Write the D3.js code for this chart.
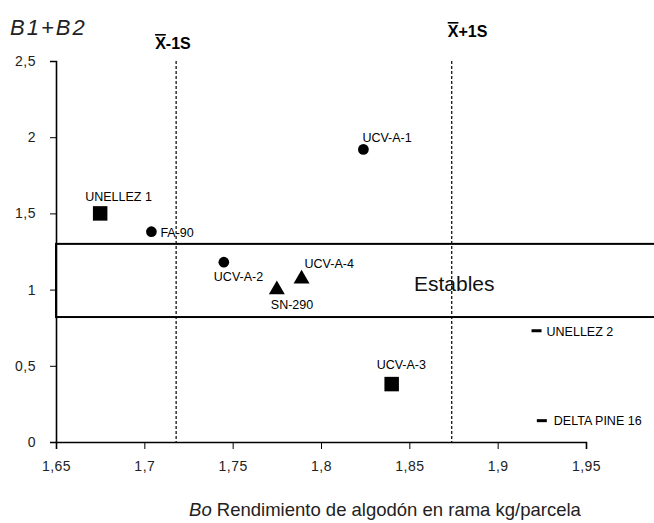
<!DOCTYPE html>
<html>
<head>
<meta charset="utf-8">
<script src="https://cdn.jsdelivr.net/npm/d3@7"></script>
<style>
  body { margin: 0; background: #fff; }
  text { font-family: "Liberation Sans", Arial, sans-serif; }
</style>
</head>
<body>
<svg id="chart" width="654" height="523"></svg>
<script>
// cultivares y sus valores (Bo, B1+B2)
var cultivares = ["UNELLEZ 1", "FA-90", "UCV-A-1", "UCV-A-2", "SN-290",
                  "UCV-A-4", "UCV-A-3", "UNELLEZ 2", "DELTA PINE 16"];
var rendimiento = [1.675, 1.704, 1.824, 1.745, 1.775, 1.789, 1.840, 1.922, 1.925];
var estabilidad = [1.50, 1.38, 1.92, 1.18, 1.00, 1.07, 0.38, 0.73, 0.14];
var grupo = ["square", "circle", "circle", "circle", "triangle",
             "triangle", "square", "dash", "dash"];
var xTicks = [1.65, 1.7, 1.75, 1.8, 1.85, 1.9, 1.95];
var yTicks = [0, 0.5, 1, 1.5, 2, 2.5];
var limites = [1.718, 1.874];          // media -1s, +1s
var limiteEtiquetas = ["-1S", "+1S"];
var bandaEstable = [0.82, 1.30];

var svg = d3.select("#chart");

var x = d3.scaleLinear().domain([1.65, 1.95]).range([56, 586]);
var y = d3.scaleLinear().domain([0, 2.5]).range([442, 61]);

var loc = d3.formatLocale({decimal: ",", thousands: ".", grouping: [3], currency: ["", ""]});
var fmt = function(d) { return loc.format("~g")(d); };

// banda de estables
svg.append("rect")
    .attr("x", x(1.65))
    .attr("y", y(bandaEstable[1]))
    .attr("width", x(2.0) - x(1.65))
    .attr("height", y(bandaEstable[0]) - y(bandaEstable[1]))
    .attr("fill", "none")
    .attr("stroke", "#000")
    .attr("stroke-width", 2);

svg.append("text")
    .attr("x", 414)
    .attr("y", 291)
    .attr("font-size", 21)
    .attr("fill", "#111")
    .text("Estables");

// lineas de la media +- 1 s
svg.selectAll(".lim")
    .data(limites)
    .enter().append("line")
    .attr("class", "lim")
    .attr("x1", function(d) { return x(d); })
    .attr("x2", function(d) { return x(d); })
    .attr("y1", y(2.5))
    .attr("y2", y(0))
    .attr("stroke", "#000")
    .attr("stroke-width", 1.2)
    .attr("stroke-dasharray", "3,2");

var limPos = [[-21, 49], [-4, 37]];
var limText = svg.selectAll(".limlab")
    .data(limites)
    .enter().append("text")
    .attr("class", "limlab")
    .attr("x", function(d, i) { return x(d) + limPos[i][0]; })
    .attr("y", function(d, i) { return limPos[i][1]; })
    .attr("font-size", 16)
    .attr("font-weight", "bold");
limText.append("tspan")
    .style("text-decoration", "overline")
    .text("X");
limText.append("tspan")
    .text(function(d, i) { return limiteEtiquetas[i]; });

// ejes
var xAxis = svg.append("g")
    .attr("transform", "translate(0," + y(0) + ")")
    .call(d3.axisBottom(x).tickValues(xTicks).tickSizeOuter(0).tickSize(7).tickPadding(12).tickFormat(fmt));
var yAxis = svg.append("g")
    .attr("transform", "translate(" + x(1.65) + ",0)")
    .call(d3.axisLeft(y).tickValues(yTicks).tickSizeOuter(0).tickSize(6).tickPadding(14).tickFormat(fmt));

[xAxis, yAxis].forEach(function(a) {
    a.select(".domain").attr("stroke-width", 1.6);
    a.selectAll("text").attr("font-size", 14).attr("fill", "#222")
        .attr("letter-spacing", 0.5)
        .style("font-family", "'Liberation Sans', Arial, sans-serif");
});

svg.append("text")
    .attr("x", 10)
    .attr("y", 35)
    .attr("font-size", 22)
    .attr("font-style", "italic")
    .attr("letter-spacing", 2)
    .attr("fill", "#222")
    .text("B1+B2");

var xt = svg.append("text")
    .attr("x", 385)
    .attr("y", 516)
    .attr("text-anchor", "middle")
    .attr("font-size", 18.5)
    .attr("fill", "#222");
xt.append("tspan").attr("font-style", "italic").text("Bo");
xt.append("tspan").text(" Rendimiento de algodón en rama kg/parcela");

// marcadores
var simbolo = {
    square: d3.symbol().type(d3.symbolSquare).size(210),
    circle: d3.symbol().type(d3.symbolCircle).size(90),
    triangle: d3.symbol().type(d3.symbolTriangle).size(110)
};

var puntos = svg.selectAll(".pt")
    .data(cultivares)
    .enter().append("g")
    .attr("class", "pt")
    .attr("transform", function(d, i) {
        return "translate(" + x(rendimiento[i]) + "," + y(estabilidad[i]) + ")"; });

puntos.each(function(d, i) {
    var g = d3.select(this);
    if (grupo[i] === "dash") {
        g.append("rect").attr("x", -5).attr("y", -1.5).attr("width", 10).attr("height", 3);
    } else {
        g.append("path").attr("d", simbolo[grupo[i]]());
    }
});

var etiquetaPos = [[-15, -12], [9, 5], [-1, -7], [-10, 19], [-6, 19],
                   [3, -11], [-15, -15], [10, 5], [12, 4]];
puntos.append("text")
    .attr("x", function(d, i) { return etiquetaPos[i][0]; })
    .attr("y", function(d, i) { return etiquetaPos[i][1]; })
    .attr("font-size", 12.5)
    .text(function(d) { return d; });
</script>
</body>
</html>
